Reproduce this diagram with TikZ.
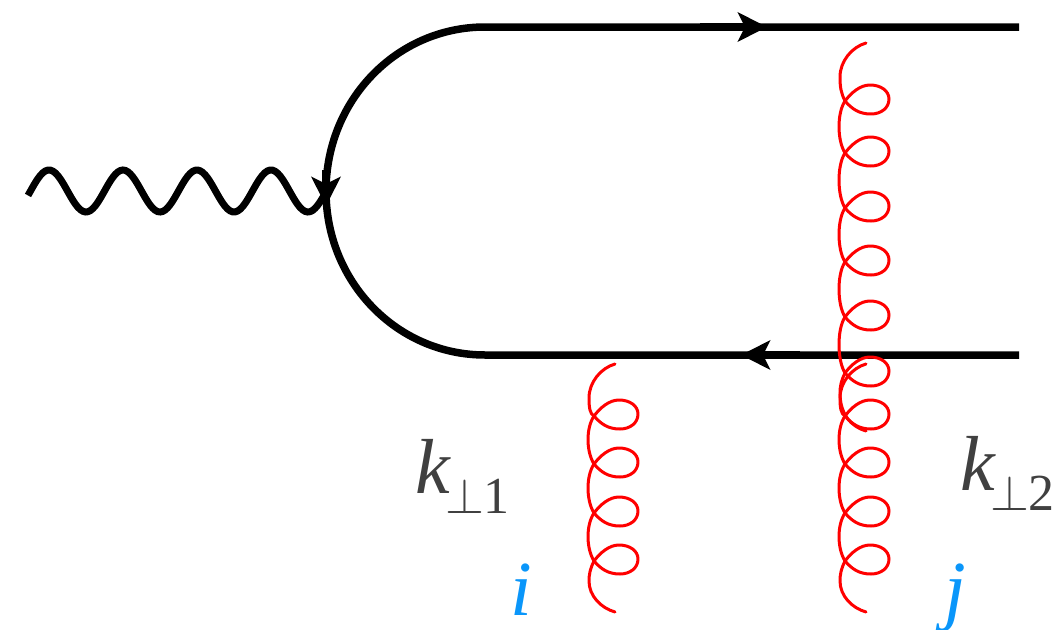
\documentclass[tikz,border=0pt]{standalone}
\usepackage{fontspec}
\setmainfont{Liberation Serif}
\usetikzlibrary{arrows.meta}
\definecolor{labgray}{HTML}{404040}
\definecolor{labblue}{HTML}{0A96FA}
\tikzset{
  quark/.style={line width=7.5pt},
  photon/.style={line width=7pt},
  quarktip/.style={line width=7.5pt,-{Stealth[length=29pt,width=29pt,inset=7pt]}},
  gluon/.style={red,line width=3pt,line cap=round,line join=round},
  momlabel/.style={font=\fontsize{78}{78}\selectfont\itshape,text=labgray,inner sep=0pt},
  colorlabel/.style={font=\fontsize{78}{78}\selectfont\itshape,text=labblue,inner sep=0pt},
}
\newcommand{\momsub}[1]{\kern-4pt\raisebox{-20pt}{\fontsize{52}{52}\selectfont\upshape\scalebox{5}{\fontsize{10}{10}\selectfont$\perp$}\kern-1pt#1}}
% one gluon: x of the ends, y of the top end, y of first crossing, other crossings, y of the bottom end
\newcommand{\gluonline}[5]{
  \foreach \c in {#3,#4}{
    \draw[gluon] (#1-21,\c) .. controls (#1-14,\c+8) and (#1-7,\c+13) .. (#1+5,\c+13)
       .. controls (#1+15,\c+13) and (#1+23,\c+7) .. (#1+23,\c-2)
       .. controls (#1+23,\c-10) and (#1+15,\c-16) .. (#1+4,\c-16)
       .. controls (#1-6,\c-16) and (#1-15,\c-8) .. (#1-21,\c);
  }
  \foreach \c [remember=\c as \p (initially #3)] in {#4}{
    \draw[gluon] (#1-21,\p) .. controls (#1-29,\p+12) and (#1-29,\c-13) .. (#1-21,\c);
    \xdef\lastcross{\c}
  }
  % free ends
  \draw[gluon] (#1,#2) .. controls (#1-14,#2+4) and (#1-26,#2+18) .. (#1-26,#2+34)
     .. controls (#1-26,#2+44) and (#1-25,#2+50) .. (#1-21,#3);
  \draw[gluon] (#1-21,\lastcross) .. controls (#1-25,\lastcross+8) and (#1-26,\lastcross+14) .. (#1-26,\lastcross+20)
     .. controls (#1-26,#5-16) and (#1-14,#5-4) .. (#1,#5);
}
\begin{document}
\begin{tikzpicture}[x=1pt,y=-1pt]
  \useasboundingbox (0,0) rectangle (1057,629);
  \coordinate (topend) at (1019,27);
  \coordinate (topleft) at (485,27);
  \coordinate (botleft) at (485,355);
  \coordinate (botend) at (1019,355);
  \coordinate (vertex) at (326,191);
  % photon
  \draw[photon] plot[domain=28:325,samples=120,smooth] (\x,{191-21*cos((\x-49)*4.865)});
  % quark lines
  \draw[quark] (topend) -- (topleft) .. controls (397,27) and (326,100) .. (vertex)
     .. controls (326,282) and (397,355) .. (botleft) -- (botend);
  \draw[quarktip] (700,27) -- (767,27);
  \draw[quarktip] (800,355) -- (741,355);
  \draw[quarktip] (326,170) -- (326,206);
  % gluons
  \gluonline{615}{364}{416}{464,513,561}{612}
  \gluonline{866}{43}{101}{153,208,262,317,373}{431}
  \gluonline{866}{364}{416}{464,513,561}{612}
  % labels
  \node[momlabel,anchor=base west] (kone) at (415,493) {k\momsub{1}};
  \node[momlabel,anchor=base west] (ktwo) at (960,490) {k\momsub{2}};
  \node[colorlabel,anchor=base west] (icol) at (510,615) {i};
  \node[colorlabel,anchor=base west] (jcol) at (944,615) {j};
\end{tikzpicture}
\end{document}
